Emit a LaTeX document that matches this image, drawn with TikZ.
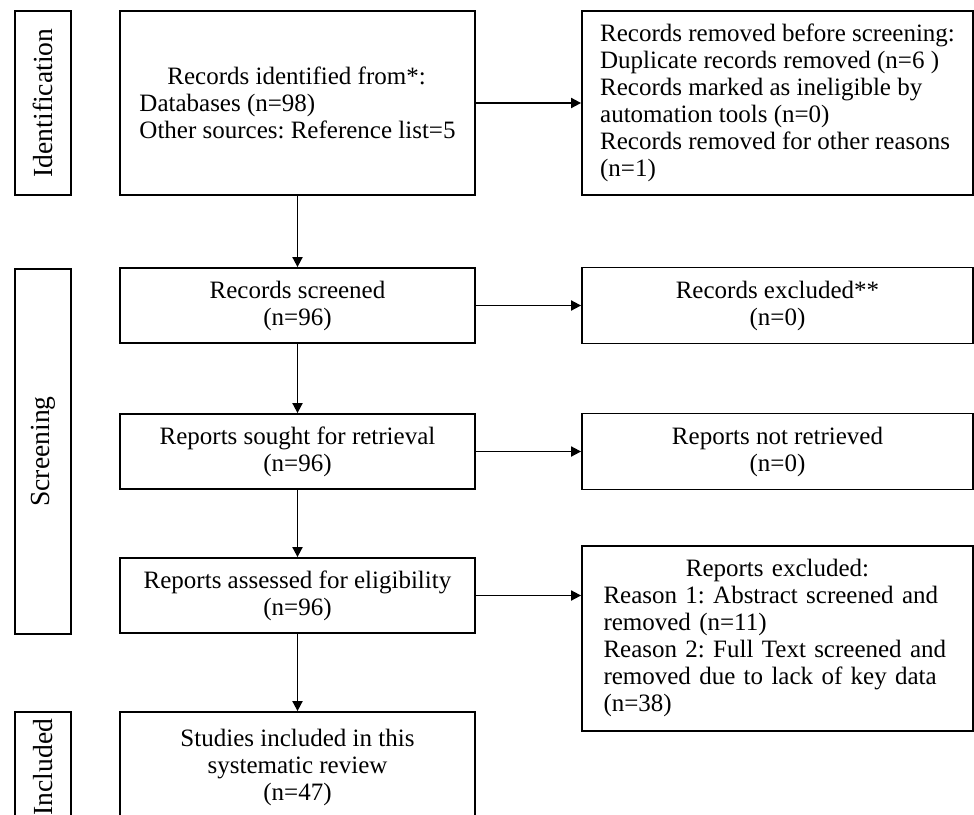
\documentclass[tikz,border=0pt]{standalone}
\usepackage{graphicx}
\usepackage{fontspec}
\setmainfont{Liberation Serif}
\frenchspacing
\usetikzlibrary{arrows.meta,positioning}

\begin{document}
\begin{tikzpicture}[
  x=0.5pt, y=-0.5pt,
  node distance=35pt and 52.6pt,
  box/.style={draw, line width=0.9pt, minimum width=177.5pt, minimum height=37.5pt, align=center, font=\fontsize{12.5pt}{13.5pt}\selectfont},
  sidebox/.style={box, minimum width=195.5pt, minimum height=38pt},
  listbox/.style={sidebox, align=left},
  stage/.style={draw, line width=0.9pt, minimum width=28pt, font=\fontsize{13.8pt}{15pt}\selectfont},
  arrow/.style={-{Triangle[length=5pt,width=5pt]}, line width=0.9pt}
]
\useasboundingbox (0,0) rectangle (974,814);
\clip (0,0) rectangle (974,814);

% main column
\node[box, minimum height=92pt, align=left] (ident) at (297.5,103) {\hspace*{14pt}Records identified from*:\\Databases (n=98)\\Other sources: Reference list=5};
\node[box, below=35.6pt of ident] (screened) {Records screened\\(n=96)};
\node[box, below=34.6pt of screened] (sought) {Reports sought for retrieval\\(n=96)};
\node[box, below=33.6pt of sought] (assessed) {Reports assessed for eligibility\\(n=96)};
\node[box, below=38.6pt of assessed, minimum height=55pt] (included) {Studies included in this\\systematic review\\(n=47)};

% right column
\node[listbox, right=of ident, minimum height=92pt] (removed) {Records removed before screening:\\Duplicate records removed (n=6 )\\Records marked as ineligible by\\automation tools (n=0)\\Records removed for other reasons\\(n=1)};
\node[sidebox, right=of screened] (excluded) {Records excluded**\\(n=0)};
\node[sidebox, right=of sought] (notret) {Reports not retrieved\\(n=0)};
\node[listbox, text width=174pt, below=27.3pt of notret, minimum height=92.5pt] (repexcl) {\makebox[174pt]{Reports excluded:}\\Reason 1: Abstract screened and\\removed (n=11)\\Reason 2: Full Text screened and\\removed due to lack of key data\\(n=38)};

% stage labels
\node[stage, left=23.6pt of ident, minimum height=92pt] (idlabel) {\rotatebox{90}{Identification}};
\node[stage, minimum height=182.5pt] (scrlabel) at (idlabel |- sought) {\rotatebox{90}{Screening}};
\node[stage, left=23.6pt of included, minimum height=55pt] (inclabel) {\rotatebox{90}{Included}};

% arrows
\draw[arrow] (ident) -- (screened);
\draw[arrow] (screened) -- (sought);
\draw[arrow] (sought) -- (assessed);
\draw[arrow] (assessed) -- (included);
\draw[arrow] (ident) -- (removed);
\draw[arrow] (screened) -- (excluded);
\draw[arrow] (sought) -- (notret);
\draw[arrow] (assessed) -- (assessed -| repexcl.west);
\end{tikzpicture}
\end{document}
